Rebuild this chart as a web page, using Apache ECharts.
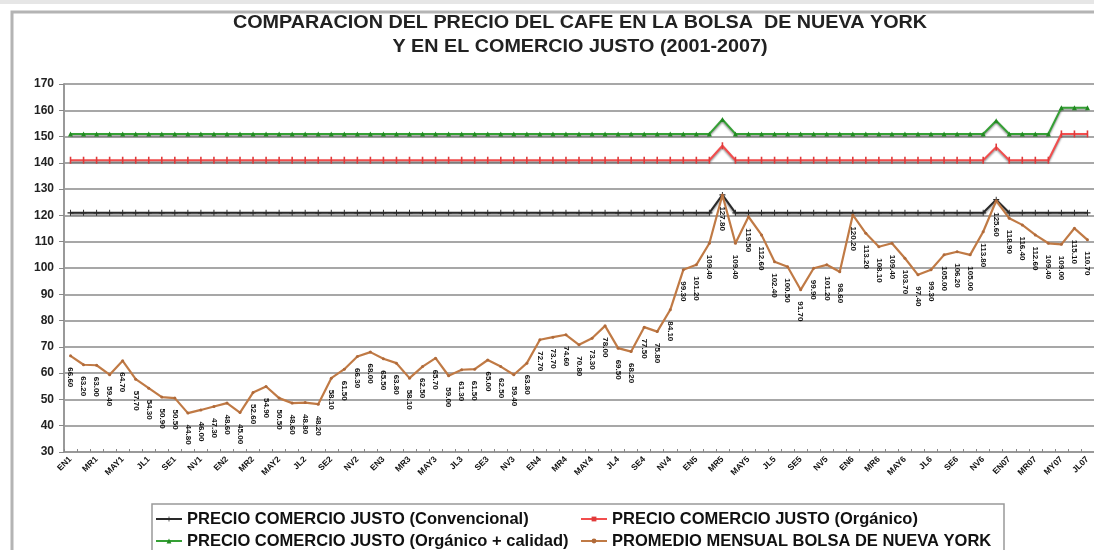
<!DOCTYPE html>
<html>
<head>
<meta charset="utf-8">
<script src="https://cdn.jsdelivr.net/npm/echarts@6/dist/echarts.min.js"></script>
<style>html,body{margin:0;padding:0;background:#fff}#c{width:1094px;height:550px}</style>
</head>
<body>
<div id="c"></div>
<script>
const months = [
 "EN1","FB1","MR1","AB1","MAY1","JN1","JL1","AG1","SE1","OC1","NV1","DC1",
 "EN2","FB2","MR2","AB2","MAY2","JN2","JL2","AG2","SE2","OC2","NV2","DC2",
 "EN3","FB3","MR3","AB3","MAY3","JN3","JL3","AG3","SE3","OC3","NV3","DC3",
 "EN4","FB4","MR4","AB4","MAY4","JN4","JL4","AG4","SE4","OC4","NV4","DC4",
 "EN5","FB5","MR5","AB5","MAY5","JN5","JL5","AG5","SE5","OC5","NV5","DC5",
 "EN6","FB6","MR6","AB6","MAY6","JN6","JL6","AG6","SE6","OC6","NV6","DC6",
 "EN07","FB07","MR07","AB07","MY07","JN07","JL07"
];
const convencional = [
 121,121,121,121,121,121,121,121,121,121,121,121,
 121,121,121,121,121,121,121,121,121,121,121,121,
 121,121,121,121,121,121,121,121,121,121,121,121,
 121,121,121,121,121,121,121,121,121,121,121,121,
 121,121,127.8,121,121,121,121,121,121,121,121,121,
 121,121,121,121,121,121,121,121,121,121,121,126.0,
 121,121,121,121,121,121,121
];
const organico = [
 141,141,141,141,141,141,141,141,141,141,141,141,
 141,141,141,141,141,141,141,141,141,141,141,141,
 141,141,141,141,141,141,141,141,141,141,141,141,
 141,141,141,141,141,141,141,141,141,141,141,141,
 141,141,146.5,141,141,141,141,141,141,141,141,141,
 141,141,141,141,141,141,141,141,141,141,141,146.0,
 141,141,141,141,151,151,151
];
const organicoCalidad = [
 151,151,151,151,151,151,151,151,151,151,151,151,
 151,151,151,151,151,151,151,151,151,151,151,151,
 151,151,151,151,151,151,151,151,151,151,151,151,
 151,151,151,151,151,151,151,151,151,151,151,151,
 151,151,156.5,151,151,151,151,151,151,151,151,151,
 151,151,151,151,151,151,151,151,151,151,151,156.0,
 151,151,151,151,161,161,161
];
const bolsaNY = [
 66.6,63.2,63.0,59.4,64.7,57.7,54.3,50.9,50.5,44.8,46.0,47.3,
 48.6,45.0,52.6,54.9,50.5,48.6,48.8,48.2,58.1,61.5,66.3,68.0,
 65.5,63.8,58.1,62.5,65.7,59.0,61.3,61.5,65.0,62.5,59.4,63.8,
 72.7,73.7,74.6,70.8,73.3,78.0,69.5,68.2,77.5,75.8,84.1,99.3,
 101.2,109.4,127.8,109.4,119.5,112.6,102.4,100.5,91.7,99.9,101.2,98.6,
 120.2,113.2,108.1,109.4,103.7,97.4,99.3,105.0,106.2,105.0,113.8,125.6,
 118.9,116.4,112.6,109.4,109.0,115.1,110.7
];
const names = [
 "PRECIO COMERCIO JUSTO (Convencional)",
 "PRECIO COMERCIO JUSTO (Orgánico)",
 "PRECIO COMERCIO JUSTO (Orgánico + calidad)",
 "PROMEDIO MENSUAL BOLSA DE NUEVA YORK"
];
const titleLines = ["COMPARACION DEL PRECIO DEL CAFE EN LA BOLSA  DE NUEVA YORK", "Y EN EL COMERCIO JUSTO (2001-2007)"];

const FONT = "'Liberation Sans', Arial, sans-serif";
const shadow = {shadowColor:'rgba(0,0,0,0.45)', shadowBlur:2, shadowOffsetY:1.5};
const legendText = {fontSize:16.5, fontWeight:'bold', color:'#111', lineHeight:18, fontFamily:FONT};
const chart = echarts.init(document.getElementById('c'));
chart.setOption({
  backgroundColor:'#fff',
  animation:false,
  textStyle:{fontFamily:FONT},
  graphic:[
    {type:'rect', shape:{x:0,y:0,width:1094,height:4}, style:{fill:'#e6e6e6'}},
    {type:'rect', shape:{x:12,y:12,width:1100,height:560}, style:{fill:'none', stroke:'#b4b4b4', lineWidth:3}},
    {type:'text', x:580, y:23, scaleX:1.04, style:{text:titleLines[0], textAlign:'center', textVerticalAlign:'middle', font:"bold 19px "+FONT, fill:'#222'}},
    {type:'text', x:580, y:47, scaleX:1.04, style:{text:titleLines[1], textAlign:'center', textVerticalAlign:'middle', font:"bold 19px "+FONT, fill:'#222'}},
    {type:'rect', shape:{x:152,y:504,width:852,height:60}, style:{fill:'none', stroke:'#999', lineWidth:1.5}}
  ],
  grid:{left:64, right:0, top:84, bottom:98},
  legend:[
    {data:[names[0],names[2]], orient:'vertical', left:155, top:510, padding:0, itemGap:4, itemWidth:26, itemHeight:6, textStyle:legendText},
    {data:[names[1],names[3]], orient:'vertical', left:580, top:510, padding:0, itemGap:4, itemWidth:26, itemHeight:6, textStyle:legendText}
  ],
  xAxis:{
    type:'category', data:months, boundaryGap:true,
    axisLine:{lineStyle:{color:'#999', width:2}},
    axisTick:{show:true, inside:true, length:3, interval:0, lineStyle:{color:'#888'}},
    axisLabel:{interval:1, rotate:45, fontSize:8.5, fontWeight:'bold', color:'#111', margin:6}
  },
  yAxis:{
    type:'value', min:30, max:170, interval:10,
    axisLine:{show:true, lineStyle:{color:'#999', width:2}},
    axisTick:{show:true, length:5, lineStyle:{color:'#888'}},
    axisLabel:{fontSize:12, fontWeight:'bold', color:'#222', margin:10},
    splitLine:{lineStyle:{color:'#8a8a8a', width:1.6}}
  },
  series:[
    {name:names[0], type:'line', data:convencional, color:'#2a2a2a',
     symbol:'path://M0,4H10V6H0Z M4.2,0H5.8V10H4.2Z', symbolSize:6,
     lineStyle:Object.assign({width:2, color:'#2a2a2a'}, shadow), itemStyle:{color:'#2a2a2a'}, z:2},
    {name:names[1], type:'line', data:organico, color:'#f24d4d',
     symbol:'rect', symbolSize:[1.6,7],
     lineStyle:Object.assign({width:2, color:'#f24d4d'}, shadow), itemStyle:{color:'#e03a3a'}, z:2},
    {name:names[2], type:'line', data:organicoCalidad, color:'#35a035',
     symbol:'triangle', symbolSize:5,
     lineStyle:Object.assign({width:2, color:'#35a035'}, shadow), itemStyle:{color:'#238a23'}, z:2},
    {name:names[3], type:'line', data:bolsaNY, color:'#c07a45',
     symbol:'circle', symbolSize:3,
     lineStyle:{width:2.2, color:'#c07a45'}, itemStyle:{color:'#b06a3a'}, z:3,
     label:{show:true, position:'bottom', rotate:-90, align:'left', verticalAlign:'middle', distance:10,
            fontSize:8, fontWeight:'bold', color:'#111', formatter:p=>p.value.toFixed(2)}}
  ]
});
</script>
</body>
</html>
